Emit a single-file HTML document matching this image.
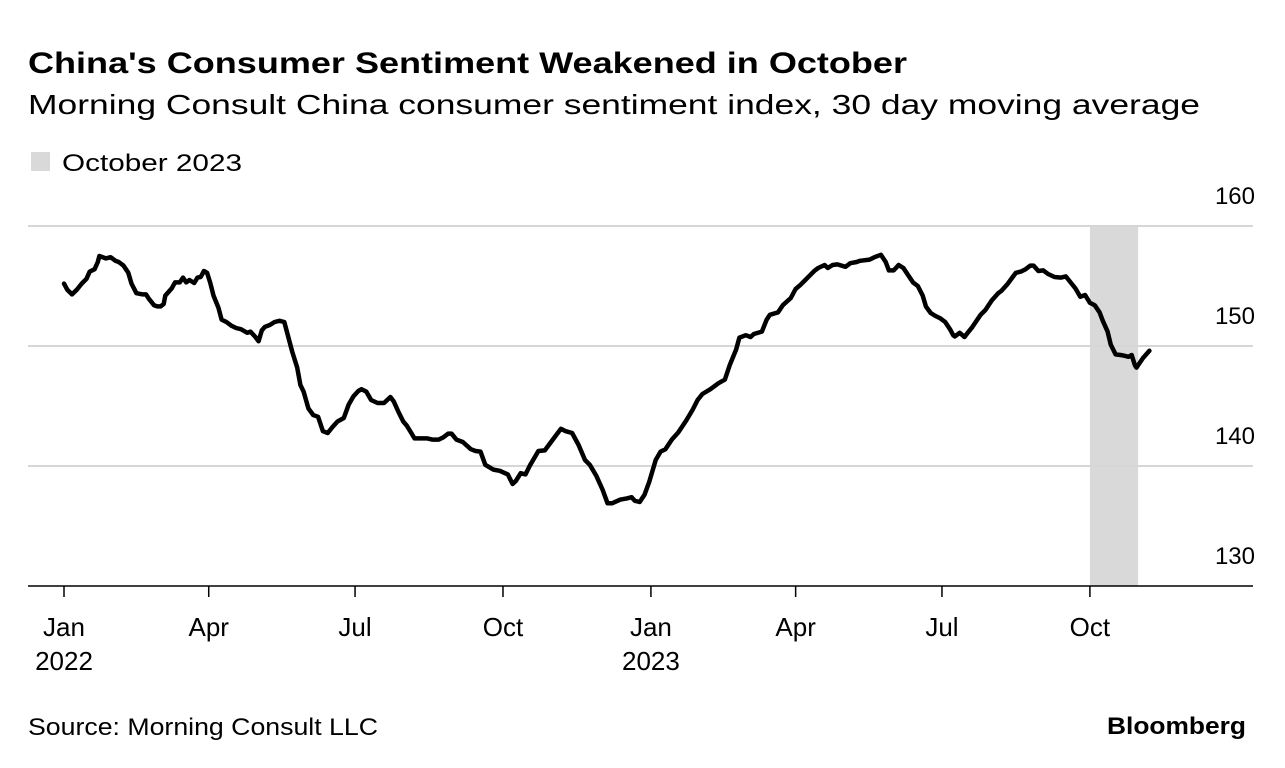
<!DOCTYPE html>
<html><head><meta charset="utf-8"><style>
body{margin:0;background:#fff;width:1285px;height:768px;overflow:hidden;font-family:"Liberation Sans",Arial,sans-serif;}
svg{display:block}
</style></head><body>
<svg width="1285" height="768" id="chart">
<text x="28" y="73" font-size="30" font-weight="bold" fill="#000" textLength="879" lengthAdjust="spacingAndGlyphs">China's Consumer Sentiment Weakened in October</text>
<text x="28" y="114" font-size="28" fill="#000" textLength="1172" lengthAdjust="spacingAndGlyphs">Morning Consult China consumer sentiment index, 30 day moving average</text>
<rect x="31" y="152" width="19" height="19" fill="#d9d9d9"/>
<text x="62" y="171" font-size="24" fill="#000" textLength="180" lengthAdjust="spacingAndGlyphs">October 2023</text>
<g id="plot"></g>
<text x="28" y="735" font-size="24" fill="#000" textLength="350" lengthAdjust="spacingAndGlyphs">Source: Morning Consult LLC</text>
<text x="1107" y="734" font-size="24" font-weight="bold" fill="#000" textLength="139" lengthAdjust="spacingAndGlyphs">Bloomberg</text>
</svg>
<script>
const days=[0,2,5,8,11,14,16,19,21,22,26,29,32,34,37,40,42,45,49,51,53,56,58,60,62,63,67,69,72,74,76,78,81,83,85,87,89,91,93,96,98,101,104,107,110,114,116,119,121,123,125,128,131,134,137,139,142,145,147,149,152,155,158,161,164,167,170,174,177,180,183,185,188,191,195,199,201,203,205,208,211,213,216,218,223,226,229,233,236,239,241,244,248,253,256,259,262,267,271,276,279,281,284,287,290,295,299,304,309,312,316,320,324,327,331,335,338,341,346,350,353,355,358,361,364,368,371,374,378,382,387,391,394,397,402,407,411,414,418,420,424,427,429,434,437,439,444,447,452,455,458,461,464,467,469,473,475,478,481,486,489,493,495,501,504,508,511,513,516,519,522,525,528,531,534,536,539,542,545,548,551,553,554,557,560,562,565,567,570,573,577,581,583,587,590,592,595,598,601,603,606,609,612,616,620,623,626,629,632,635,638,641,644,646,649,651,654,657,659,662,664,666,667,671,675];
const values=[155.2,154.7,154.3,154.7,155.2,155.6,156.2,156.4,157.0,157.5,157.3,157.4,157.1,157.0,156.7,156.1,155.2,154.4,154.3,154.3,153.9,153.4,153.3,153.3,153.5,154.2,154.8,155.3,155.3,155.7,155.3,155.5,155.25,155.7,155.75,156.25,156.1,155.25,154.2,153.2,152.2,152.0,151.7,151.5,151.4,151.1,151.2,150.75,150.4,151.3,151.6,151.75,152.0,152.1,152.0,151.0,149.5,148.2,146.75,146.2,144.8,144.25,144.1,142.9,142.75,143.25,143.7,144.0,145.1,145.8,146.25,146.4,146.2,145.5,145.25,145.25,145.5,145.75,145.4,144.5,143.7,143.4,142.75,142.3,142.3,142.3,142.2,142.2,142.4,142.7,142.7,142.2,142.0,141.4,141.25,141.2,140.1,139.7,139.6,139.3,138.5,138.75,139.4,139.3,140.1,141.25,141.3,142.2,143.1,142.9,142.75,141.75,140.5,140.1,139.2,138.0,136.9,136.9,137.2,137.3,137.4,137.1,137.0,137.6,138.7,140.5,141.2,141.4,142.2,142.8,143.8,144.7,145.5,146.0,146.4,146.9,147.2,148.4,149.7,150.7,150.9,150.75,151.0,151.2,152.2,152.6,152.8,153.4,154.0,154.75,155.1,155.5,155.9,156.3,156.5,156.75,156.5,156.75,156.8,156.6,156.9,157.0,157.1,157.2,157.4,157.6,157.0,156.3,156.3,156.75,156.5,155.9,155.3,155.0,154.2,153.3,152.75,152.5,152.3,152.0,151.4,150.9,150.8,151.1,150.75,151.1,151.6,152.0,152.6,153.0,153.8,154.4,154.6,155.2,155.75,156.1,156.2,156.4,156.7,156.7,156.25,156.3,156.0,155.75,155.7,155.8,155.3,154.8,154.1,154.25,153.6,153.4,152.8,152.1,151.2,150.1,149.3,149.25,149.2,149.1,149.25,148.4,148.2,149.0,149.6];
const yTicks=[130,140,150,160];
const monthDays=[0,90,181,273,365,455,546,638];
const monthLabels=["Jan","Apr","Jul","Oct","Jan","Apr","Jul","Oct"];
const yearLabels=["2022","","","","2023","","",""];
const shadeStart=638, shadeEnd=668;

const NS="http://www.w3.org/2000/svg";
const g=document.getElementById('plot');
const xS=d=>64+1.608*d;
const yS=v=>586-(v-130)*12;
function mk(t,a){const e=document.createElementNS(NS,t);for(const k in a)e.setAttribute(k,a[k]);g.appendChild(e);return e;}

const sh=mk('rect',{x:xS(shadeStart),y:yS(160),width:xS(shadeEnd)-xS(shadeStart),height:yS(130)-yS(160),fill:'#d9d9d9'});



yTicks.forEach(v=>{
  if(v>130){const l=mk('line',{x1:28,x2:1253,y1:yS(v),y2:yS(v),stroke:'#d6d6d6','stroke-width':2});
  
  }
  const t=mk('text',{x:1255,y:yS(v)-22,'font-size':24,'text-anchor':'end',fill:'#000'});
  t.textContent=v;
  
  
});
const ax=mk('line',{x1:28,x2:1253,y1:586,y2:586,stroke:'#000','stroke-width':1.5});



monthDays.forEach((d,i)=>{
  const x=xS(d);
  const tk=mk('line',{x1:x,x2:x,y1:586,y2:597,stroke:'#000','stroke-width':1.5});
  
  
  const t=mk('text',{x:x,y:636,'font-size':26,'text-anchor':'middle',fill:'#000'});
  t.textContent=monthLabels[i];
  
  
  if(yearLabels[i]){const y=mk('text',{x:x,y:670,'font-size':26,'text-anchor':'middle',fill:'#000'});
  y.textContent=yearLabels[i];
  
  }
});

const p=mk('path',{d:days.map((d,i)=>(i?'L':'M')+xS(d).toFixed(1)+','+yS(values[i]).toFixed(1)).join(''),fill:'none',stroke:'#000','stroke-width':4.5,'stroke-linejoin':'round','stroke-linecap':'round'});


</script>
</body></html>
